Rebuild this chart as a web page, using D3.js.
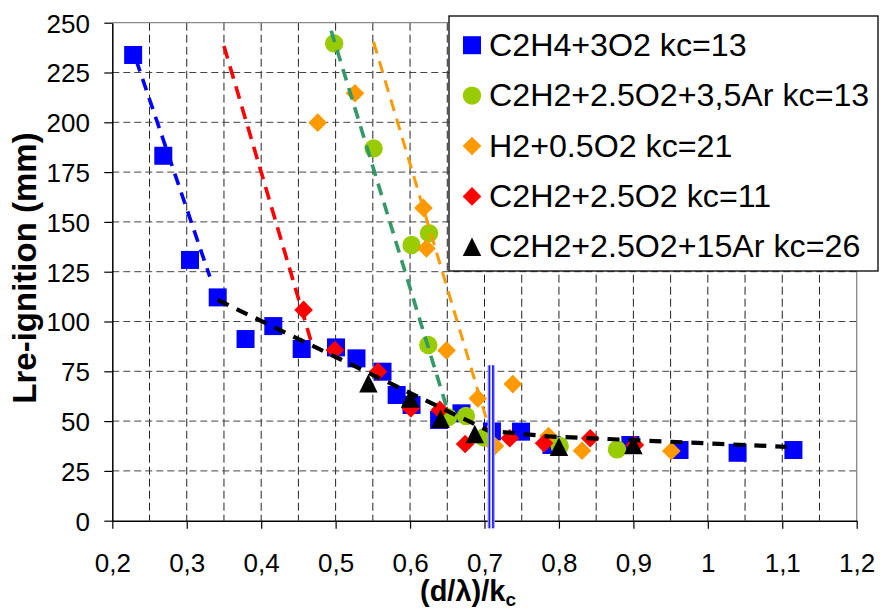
<!DOCTYPE html>
<html>
<head>
<meta charset="utf-8">
<script src="https://cdn.jsdelivr.net/npm/d3@7"></script>
<style>
  html, body { margin: 0; padding: 0; background: #fff; }
  svg { display: block; }
  text { font-family: "Liberation Sans", Arial, sans-serif; }
</style>
</head>
<body>
<svg id="chart" width="880" height="610"></svg>
<script>
// ---------------- data ----------------
const seriesNames = [
  "C2H4+3O2 kc=13",
  "C2H2+2.5O2+3,5Ar kc=13",
  "H2+0.5O2 kc=21",
  "C2H2+2.5O2 kc=11",
  "C2H2+2.5O2+15Ar kc=26"
];
const seriesColors = ["#0000ff", "#99cc00", "#ff9900", "#ff0000", "#000000"];
const seriesShapes = ["square", "circle", "diamond", "diamond", "triangle"];

const c2h4 = [
  [0.228,233.8],[0.2685,183.2],[0.3044,130.9],[0.3416,112.1],[0.379,91.2],
  [0.4163,97.7],[0.4544,86.2],[0.5005,87.0],[0.528,81.5],[0.563,74.8],
  [0.582,63.1],[0.602,58.1],[0.639,50.6],[0.669,53.9],[0.710,44.8],
  [0.749,44.7],[0.790,38.0],[0.896,38.0],[0.962,35.5],[1.040,34.1],[1.115,35.5]
];
const c2h2Ar35 = [
  [0.498,239.6],[0.551,186.9],[0.602,138.4],[0.6255,144.3],[0.6245,88.2],
  [0.651,51.9],[0.675,52.6],[0.699,41.8],[0.801,37.5],[0.878,35.8]
];
const h2o2 = [
  [0.476,199.8],[0.526,214.6],[0.618,157.0],[0.622,136.7],[0.649,85.5],
  [0.691,61.4],[0.714,37.5],[0.738,68.6],[0.786,42.5],[0.831,35.1],[0.951,35.0]
];
const c2h2o2 = [
  [0.457,105.8],[0.499,85.7],[0.557,74.8],[0.601,56.4],[0.640,55.6],
  [0.674,38.5],[0.734,41.4],[0.780,38.9],[0.842,41.4],[0.902,38.0]
];
const c2h2Ar15 = [
  [0.544,69.0],[0.600,61.4],[0.641,51.2],[0.687,43.5],[0.800,37.1],[0.900,38.0]
];
const seriesData = [c2h4, c2h2Ar35, h2o2, c2h2o2, c2h2Ar15];

// dashed trend lines
const blueTrend   = [[0.232,231.3],[0.331,122.5]];
const redTrend    = [[0.350,238.3],[0.4665,90.7]];
const greenTrend  = [[0.494,246.0],[0.651,54.7]];
const orangeTrend = [[0.551,240.3],[0.713,38.0]];
const blackTrend  = [[0.3416,110.8],[0.705,45.2],[0.786,42.3],[1.106,37.1]];

// vertical double marker line
const markerX = 0.709;
const markerY = [78, -3.8];

// axes
const xTicks = [0.2,0.3,0.4,0.5,0.6,0.7,0.8,0.9,1.0,1.1,1.2];
const xTickLabels = ["0,2","0,3","0,4","0,5","0,6","0,7","0,8","0,9","1","1,1","1,2"];
const xGrid = [0.25,0.3,0.35,0.4,0.45,0.5,0.55,0.6,0.65,0.7,0.75,0.8,0.85,0.9,0.95,1.0,1.05,1.1,1.15];
const yTicks = [0,25,50,75,100,125,150,175,200,225,250];
const yGrid = [25,50,75,100,125,150,175,200,225];

// ---------------- drawing ----------------
const svg = d3.select("#chart");
const x = d3.scaleLinear().domain([0.2, 1.2]).range([112.3, 856.7]);
const y = d3.scaleLinear().domain([0, 250]).range([520.7, 22.7]);

// gridlines
const grid = svg.append("g");
grid.selectAll("line.v").data(xGrid).join("line")
  .attr("x1", d => x(d)).attr("x2", d => x(d))
  .attr("y1", y(250)).attr("y2", y(0))
  .attr("stroke", "#222").attr("stroke-width", 1)
  .attr("stroke-dasharray", "8,4");
grid.selectAll("line.h").data(yGrid).join("line")
  .attr("x1", x(0.2)).attr("x2", x(1.2))
  .attr("y1", d => y(d)).attr("y2", d => y(d))
  .attr("stroke", "#444").attr("stroke-width", 1)
  .attr("stroke-dasharray", "7,4");

// plot border top/right (gray)
svg.append("line").attr("x1", x(0.2)).attr("x2", x(1.2)).attr("y1", y(250)).attr("y2", y(250))
  .attr("stroke", "#888").attr("stroke-width", 1.3);
svg.append("line").attr("x1", x(1.2)).attr("x2", x(1.2)).attr("y1", y(250)).attr("y2", y(0))
  .attr("stroke", "#888").attr("stroke-width", 1.3);

// axes
const yAxis = d3.axisLeft(y).tickValues(yTicks).tickSizeInner(8).tickSizeOuter(0)
  .tickPadding(14.3).tickFormat(d3.format("d"));
const gy = svg.append("g").attr("transform", `translate(${x(0.2)},0)`).call(yAxis);
gy.select(".domain").attr("stroke", "#000").attr("stroke-width", 1.5);
gy.selectAll(".tick line").attr("stroke", "#000").attr("stroke-width", 1.2);
gy.selectAll(".tick text").attr("font-size", 26).attr("fill", "#000")
  .attr("font-family", "'Liberation Sans', Arial, sans-serif").attr("dy", "0.36em");

const xAxis = d3.axisBottom(x).tickValues(xTicks).tickSizeInner(8).tickSizeOuter(0)
  .tickPadding(24.5).tickFormat((d, i) => xTickLabels[i]);
const gx = svg.append("g").attr("transform", `translate(0,${y(0)})`).call(xAxis);
gx.select(".domain").attr("stroke", "#000").attr("stroke-width", 1.5);
gx.selectAll(".tick line").attr("stroke", "#000").attr("stroke-width", 1.2);
gx.selectAll(".tick text").attr("font-size", 26).attr("fill", "#000")
  .attr("font-family", "'Liberation Sans', Arial, sans-serif");

// markers
const triangleType = {
  draw(ctx, size) {
    const s = Math.sqrt(size);
    ctx.moveTo(0, -s / 2);
    ctx.lineTo(s / 2, s / 2);
    ctx.lineTo(-s / 2, s / 2);
    ctx.closePath();
  }
};
function symbolPath(shape) {
  if (shape === "square") return d3.symbol(d3.symbolSquare, 18 * 18)();
  if (shape === "circle") return d3.symbol(d3.symbolCircle, Math.PI * 9.2 * 9.2)();
  if (shape === "diamond") return d3.symbol(d3.symbolSquare, 13.2 * 13.2)();
  return d3.symbol(triangleType, 18.5 * 18.5)();
}
function symbolRot(shape) { return shape === "diamond" ? " rotate(45)" : ""; }

const marks = svg.append("g");
seriesData.forEach((data, si) => {
  marks.append("g").selectAll("path").data(data).join("path")
    .attr("d", symbolPath(seriesShapes[si]))
    .attr("transform", d => `translate(${x(d[0])},${y(d[1])})${symbolRot(seriesShapes[si])}`)
    .attr("fill", seriesColors[si]);
});

// trend lines
const line = d3.line().x(d => x(d[0])).y(d => y(d[1]));
const trends = [
  { data: blueTrend,   color: "#0000ff", w: 3.6, dash: "12,8" },
  { data: redTrend,    color: "#ff0000", w: 3.6, dash: "13,8" },
  { data: greenTrend,  color: "#339966", w: 3.6, dash: "12,8" },
  { data: orangeTrend, color: "#ff9900", w: 3.0, dash: "12,8" },
  { data: blackTrend,  color: "#000000", w: 4.2, dash: "12,9" }
];
svg.append("g").selectAll("path").data(trends).join("path")
  .attr("d", d => line(d.data))
  .attr("fill", "none")
  .attr("stroke", d => d.color)
  .attr("stroke-width", d => d.w)
  .attr("stroke-dasharray", d => d.dash);

// vertical double blue line
const vx = x(markerX);
const vg = svg.append("g");
vg.append("rect").attr("x", vx - 3.6).attr("width", 7.2)
  .attr("y", y(markerY[0])).attr("height", y(markerY[1]) - y(markerY[0]))
  .attr("fill", "#9a9aff");
[-1.7, 1.7].forEach(off => {
  vg.append("line").attr("x1", vx + off).attr("x2", vx + off)
    .attr("y1", y(markerY[0])).attr("y2", y(markerY[1]))
    .attr("stroke", "#1a1aff").attr("stroke-width", 1.6);
});
vg.append("line").attr("x1", vx).attr("x2", vx)
  .attr("y1", y(markerY[0])).attr("y2", y(markerY[1]))
  .attr("stroke", "#ffffff").attr("stroke-width", 1.2);

// axis titles
svg.append("text")
  .attr("transform", "translate(36,268) rotate(-90)")
  .attr("text-anchor", "middle")
  .attr("font-size", 33).attr("font-weight", "bold")
  .text("Lre-ignition (mm)");

const xt = svg.append("text")
  .attr("x", 468).attr("y", 601)
  .attr("text-anchor", "middle")
  .attr("font-size", 29).attr("font-weight", "bold");
xt.append("tspan").text("(d/λ)/k");
xt.append("tspan").attr("font-size", 19).attr("dy", 5).text("c");

// legend
const lg = svg.append("g");
lg.append("rect").attr("x", 449).attr("y", 16).attr("width", 429).attr("height", 255)
  .attr("fill", "#fff").attr("stroke", "#000").attr("stroke-width", 1.3);
const rows = lg.selectAll("g.row").data(seriesNames).join("g")
  .attr("transform", (d, i) => `translate(0,${55.7 + i * 50.4})`);
rows.append("path")
  .attr("d", (d, i) => symbolPath(seriesShapes[i]))
  .attr("transform", (d, i) => `translate(472,-10.5)${symbolRot(seriesShapes[i])}`)
  .attr("fill", (d, i) => seriesColors[i]);
rows.append("text")
  .attr("x", 489).attr("y", 0)
  .attr("font-size", 32.2)
  .attr("fill", "#000")
  .text(d => d);
</script>
</body>
</html>
